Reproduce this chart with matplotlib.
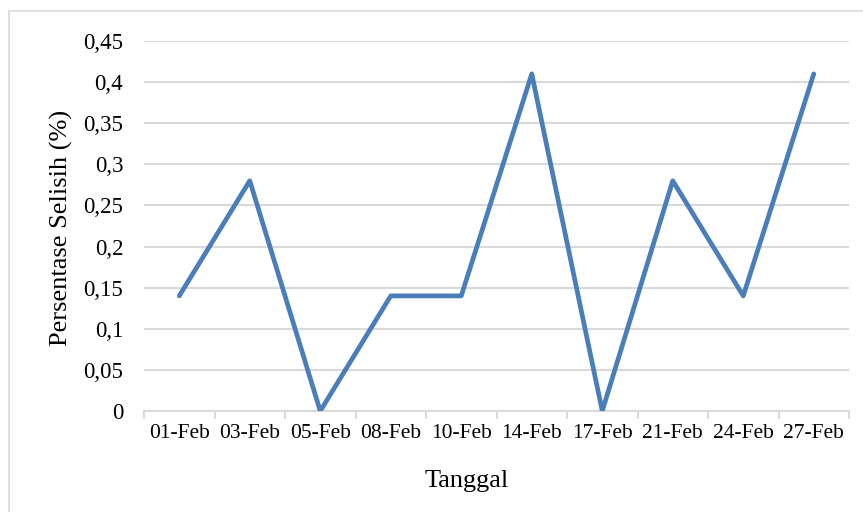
import numpy as np
import matplotlib.pyplot as plt
from matplotlib.patches import Rectangle

# daily difference percentage
tanggal = ['01-Feb', '03-Feb', '05-Feb', '08-Feb', '10-Feb',
           '14-Feb', '17-Feb', '21-Feb', '24-Feb', '27-Feb']
selisih = [0.14, 0.28, 0.0, 0.14, 0.14, 0.41, 0.0, 0.28, 0.14, 0.41]
yticks = [0, 0.05, 0.1, 0.15, 0.2, 0.25, 0.3, 0.35, 0.4, 0.45]

plt.rcParams['font.family'] = ['Liberation Serif', 'DejaVu Serif']

W, H = 863, 512
fig = plt.figure(figsize=(W / 100, H / 100), dpi=100)
ax = fig.add_axes([144 / W, 1 - 411 / H, 705 / W, 370 / H])

# chart frame
fig.patches.append(Rectangle((9 / W, -0.05), 1.2, 1.05 - 11 / H,
                             transform=fig.transFigure, fill=False,
                             edgecolor='#d9d9d9', linewidth=1.2))

grid_col = '#d9d9d9'
x = np.arange(len(tanggal))
ax.plot(x, selisih, color='#4a7ebb', linewidth=3.4, solid_joinstyle='round',
        solid_capstyle='round', zorder=3)

ax.set_xlim(-0.5, len(tanggal) - 0.5)
ax.set_ylim(0, 0.45)
ax.set_yticks(yticks)
ax.set_yticklabels([('%g' % v).replace('.', ',') for v in yticks])
ax.yaxis.grid(True, color=grid_col, linewidth=1.5)
ax.set_axisbelow(True)

# category labels centred, tick marks on the boundaries
ax.set_xticks(x)
ax.set_xticklabels(tanggal)
ax.set_xticks(np.arange(len(tanggal) + 1) - 0.5, minor=True)
ax.tick_params(axis='x', which='major', length=0, pad=9, labelsize=15.5)
ax.tick_params(axis='x', which='minor', length=6, width=1.5, color=grid_col)
ax.tick_params(axis='y', length=0, pad=15, labelsize=16.5)

for s in ['top', 'right', 'left']:
    ax.spines[s].set_visible(False)
ax.spines['bottom'].set_color(grid_col)
ax.spines['bottom'].set_linewidth(1.5)

fig.text(467 / W, 1 - 487 / H, 'Tanggal', fontsize=19,
         ha='center', va='baseline')
fig.text(61 / W, 1 - 227.5 / H, 'Persentase Selisih (%)', fontsize=19,
         rotation=90, ha='center', va='center')

fig.savefig('out.png', dpi=100)
